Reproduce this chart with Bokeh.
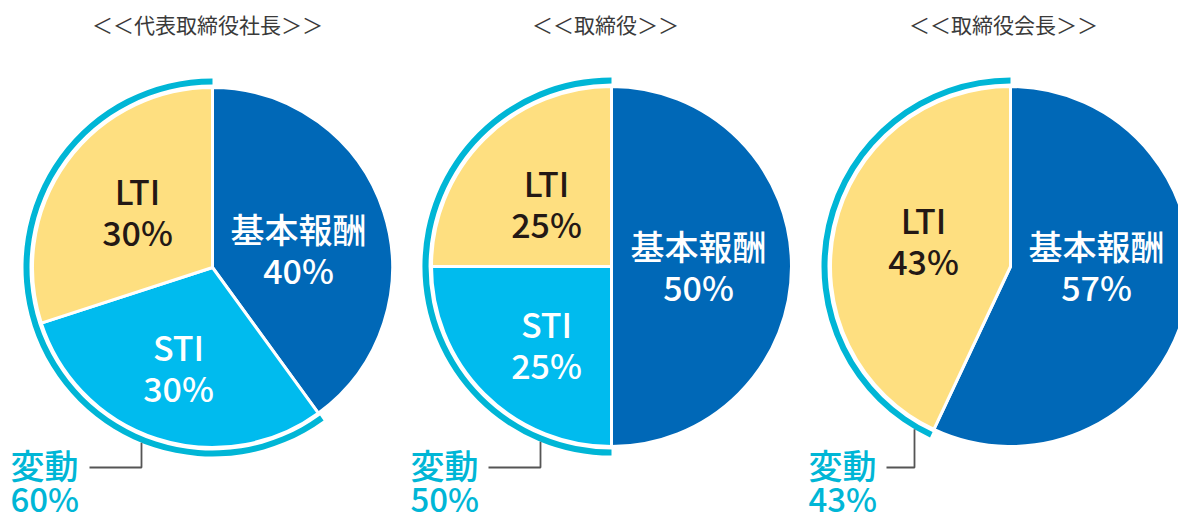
import math
from bokeh.plotting import figure
from bokeh.models import Range1d, ColumnDataSource
from bokeh.core.properties import value
from bokeh.embed import file_html
from bokeh.resources import INLINE

# ---- data ----
titles = ["＜＜代表取締役社長＞＞", "＜＜取締役＞＞", "＜＜取締役会長＞＞"]
components = ["基本報酬", "STI", "LTI"]
base_pay = [40, 50, 57]
sti = [30, 25, 0]
lti = [30, 25, 43]
variable_label = "変動"
variable = [60, 50, 43]

# ---- styles / layout ----
FONT = value("Noto Sans CJK JP Medium")
C_BASE = "#0068b7"
C_STI = "#00bbee"
C_LTI = "#fedf80"
C_ARC = "#00b6d6"
C_DARK = "#231815"
C_LINE = "#555555"
colors = [C_BASE, C_STI, C_LTI]
text_colors = ["white", "white", C_DARK]

W_IMG, H_IMG = 1178, 523
def Y(img_y):
    return H_IMG - img_y

centers = [(212, 267), (611, 266), (1010, 266)]
R = 180
ARC_IN, ARC_OUT = 183, 189
title_x = [207, 605, 1003]
label_off = [
    {"基本報酬": (86, -39), "STI": (-34, 79), "LTI": (-75, -77)},
    {"基本報酬": (87, -21), "STI": (-65, 57), "LTI": (-65, -84)},
    {"基本報酬": (86, -21), "LTI": (-87, -47)},
]
LINE_GAP = 41
var_label_x = [10, 410, 808]
leader_dx = [-71, -71, -96]
leader_end_x = [89, 488, 886]
leader_y = 467

p = figure(width=W_IMG, height=H_IMG, output_backend="svg", toolbar_location=None,
           x_range=Range1d(0, W_IMG), y_range=Range1d(0, H_IMG), min_border=0)
p.axis.visible = False
p.grid.visible = False
p.outline_line_color = None
p.background_fill_color = "white"

for i in range(3):
    cx, cy = centers[i]
    vals = [base_pay[i], sti[i], lti[i]]
    total = sum(vals)
    cum = 0
    xs, ys, sa, ea, cs = [], [], [], [], []
    for name, v, c in zip(components, vals, colors):
        if v <= 0:
            continue
        start = math.pi / 2 - 2 * math.pi * cum / total
        cum += v
        end = math.pi / 2 - 2 * math.pi * cum / total
        xs.append(cx); ys.append(Y(cy)); sa.append(start); ea.append(end); cs.append(c)
    src = ColumnDataSource(dict(x=xs, y=ys, sa=sa, ea=ea, c=cs))
    p.wedge(x="x", y="y", radius=R, start_angle="sa", end_angle="ea", direction="clock",
            fill_color="c", line_color="white", line_width=3, source=src)

    frac = variable[i] / 100
    p.annular_wedge(x=[cx], y=[Y(cy)], inner_radius=ARC_IN, outer_radius=ARC_OUT,
                    start_angle=math.pi / 2, end_angle=math.pi / 2 + 2 * math.pi * frac,
                    direction="anticlock", fill_color=C_ARC, line_color=None)

    for name, v, tc in zip(components, vals, text_colors):
        if v <= 0:
            continue
        dx, dy = label_off[i][name]
        p.text(x=[cx + dx], y=[Y(cy + dy)], text=[name], text_font=FONT, text_font_size="34px",
               text_color=tc, text_align="center", text_baseline="middle")
        p.text(x=[cx + dx], y=[Y(cy + dy + LINE_GAP)], text=[f"{v}%"], text_font=FONT,
               text_font_size="34px", text_color=tc, text_align="center", text_baseline="middle")

    p.text(x=[title_x[i]], y=[Y(23)], text=[titles[i]], text_font=value("Noto Sans CJK JP"),
           text_font_size="21px", text_color="#3a3a3a", text_align="center", text_baseline="middle")

    lx = cx + leader_dx[i]
    top = cy + math.sqrt(ARC_OUT ** 2 - leader_dx[i] ** 2)
    p.line(x=[lx, lx, leader_end_x[i]], y=[Y(top), Y(leader_y), Y(leader_y)],
           line_color=C_LINE, line_width=1.8)

    p.text(x=[var_label_x[i]], y=[Y(464)], text=[variable_label], text_font=FONT,
           text_font_size="34px", text_color=C_ARC, text_align="left", text_baseline="middle")
    p.text(x=[var_label_x[i]], y=[Y(497)], text=[f"{variable[i]}%"], text_font=FONT,
           text_font_size="33px", text_color=C_ARC, text_align="left", text_baseline="middle")

open("out.html", "w").write(file_html(p, INLINE))
